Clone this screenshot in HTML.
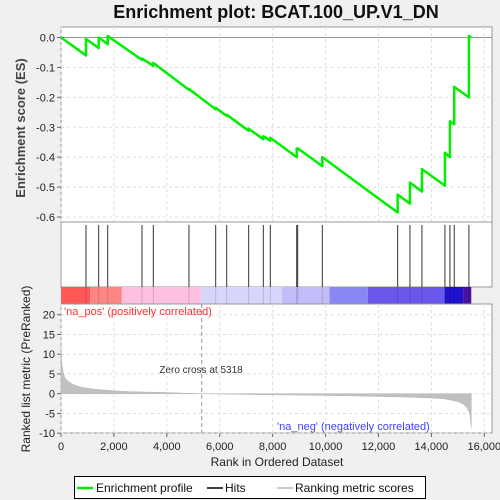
<!DOCTYPE html>
<html><head><meta charset="utf-8"><style>
body{margin:0;background:#f0f0f0;font-family:"Liberation Sans",sans-serif;}
svg{display:block}
</style></head><body>
<svg id="chart" width="500" height="500" xmlns="http://www.w3.org/2000/svg">
<rect x="0" y="0" width="500" height="500" fill="#f0f0f0"/>
<text x="276" y="18" text-anchor="middle" font-size="18" font-weight="bold" fill="#111">Enrichment plot: BCAT.100_UP.V1_DN</text>
<g id="gtop"></g>
<g id="ghits"></g>
<g id="gbar"></g>
<g id="gbottom"></g>
<text transform="translate(25,128) rotate(-90)" text-anchor="middle" font-size="13" font-weight="bold" fill="#444">Enrichment score (ES)</text>
<text transform="translate(30,369) rotate(-90)" text-anchor="middle" font-size="12" fill="#222">Ranked list metric (PreRanked)</text>
<text x="277" y="466" text-anchor="middle" font-size="12" fill="#222">Rank in Ordered Dataset</text>
<g>
<rect x="74.5" y="476.5" width="351" height="22" fill="#fff" stroke="#000"/>
<line x1="77" y1="488" x2="93" y2="488" stroke="#00ee00" stroke-width="2.5"/>
<text x="96" y="492" font-size="12" fill="#111">Enrichment profile</text>
<line x1="207" y1="488" x2="223" y2="488" stroke="#000" stroke-width="1.5"/>
<text x="225" y="492" font-size="12" fill="#111">Hits</text>
<line x1="277" y1="488" x2="293" y2="488" stroke="#bbb" stroke-width="1.5"/>
<text x="295" y="492" font-size="12" fill="#111">Ranking metric scores</text>
</g>
</svg>
<script>
const hitRanks=[945,1424,1765,3061,3489,4837,5847,6263,7094,7647,7912,8909,8947,9877,12725,13190,13643,14512,14701,14864,15418];
const esBefore=[-0.06,-0.035,-0.022,-0.075,-0.095,-0.175,-0.24,-0.262,-0.312,-0.34,-0.345,-0.4,-0.375,-0.43,-0.585,-0.555,-0.515,-0.495,-0.4,-0.29,-0.2];
const esAfter=[-0.005,0.0,0.005,-0.07,-0.085,-0.172,-0.235,-0.258,-0.305,-0.33,-0.335,-0.372,-0.37,-0.4,-0.525,-0.485,-0.44,-0.385,-0.28,-0.165,0.005];
const totalRanks=15508;
const metricRanks=[0,30,80,150,300,500,800,1200,1700,2300,3000,4000,5318,7000,9000,10000,11000,12000,13000,14000,14500,15000,15200,15350,15450,15508];
const metricVals=[12,8,5.5,4,3,2.2,1.6,1.2,0.9,0.6,0.45,0.3,0,-0.2,-0.35,-0.45,-0.55,-0.7,-0.85,-1.1,-1.3,-2.0,-2.6,-3.6,-5,-8.7];
const xTicks=[0,2000,4000,6000,8000,10000,12000,14000,16000];
const esTicks=[0,-0.1,-0.2,-0.3,-0.4,-0.5,-0.6];
const mTicks=[20,15,10,5,0,-5,-10];
const barStops=[0,1100,2300,5300,8350,10150,11600,14500,15200,15508];
const barColors=["#ff5656","#ff8585","#fdc0e0","#d6d6fc","#c2bcf8","#8888f4","#6a58ec","#2010d0","#4a10a0"];

const NS="http://www.w3.org/2000/svg";
const L=61,R=492;
const xs=r=>61+r*(423.3/16000);
const ysES=v=>37.5-v*299.2;
const ysM=v=>393.7-v*3.95;
function mk(tag,attrs,parent){const e=document.createElementNS(NS,tag);for(const k in attrs)e.setAttribute(k,attrs[k]);parent.appendChild(e);return e;}
const gTop=document.getElementById('gtop'),gHits=document.getElementById('ghits'),gBar=document.getElementById('gbar'),gBottom=document.getElementById('gbottom');
let p=mk('rect',{x:L,y:27,width:R-L,height:195,fill:'#fff',stroke:'#999'},gTop);

p=mk('rect',{x:L,y:222,width:R-L,height:65,fill:'#fff',stroke:'#999'},gHits);

p=mk('rect',{x:L,y:304,width:R-L,height:129,fill:'#fff',stroke:'#999'},gBottom);

xTicks.forEach(t=>{const x=xs(t);
 mk('line',{x1:x,y1:27,x2:x,y2:222,stroke:'#ddd','stroke-dasharray':'3,3'},gTop);
 mk('line',{x1:x,y1:304,x2:x,y2:433,stroke:'#ddd','stroke-dasharray':'3,3'},gBottom);
 mk('line',{x1:x,y1:433,x2:x,y2:437,stroke:'#666'},gBottom);
 const tx=mk('text',{x:x,y:450,'text-anchor':'middle','font-size':'11',fill:'#222'},gBottom);
 tx.textContent=t.toLocaleString('en-US');
 
});
esTicks.forEach(t=>{const y=ysES(t);
 mk('line',{x1:L,y1:y,x2:R,y2:y,stroke:t===0?'#999':'#ddd','stroke-dasharray':t===0?'':'3,3'},gTop);
 mk('line',{x1:L-4,y1:y,x2:L,y2:y,stroke:'#666'},gTop);
 const tx=mk('text',{x:L-6,y:y+4,'text-anchor':'end','font-size':'11',fill:'#222'},gTop);
 tx.textContent=t.toFixed(1);
 
});
mTicks.forEach(t=>{const y=ysM(t);
 mk('line',{x1:L,y1:y,x2:R,y2:y,stroke:'#ddd','stroke-dasharray':'3,3'},gBottom);
 mk('line',{x1:L-4,y1:y,x2:L,y2:y,stroke:'#666'},gBottom);
 const tx=mk('text',{x:L-6,y:y+4,'text-anchor':'end','font-size':'11',fill:'#222'},gBottom);
 tx.textContent=t;
 
});
let d='M'+xs(0)+','+ysES(0);
hitRanks.forEach((r,i)=>{d+=' L'+xs(r)+','+ysES(esBefore[i])+' L'+xs(r)+','+ysES(esAfter[i]);});
d+=' L'+xs(totalRanks)+','+ysES(0);
const esLine=mk('path',{d:d,fill:'none',stroke:'#00ee00','stroke-width':'2.5','stroke-linejoin':'round'},gTop);


hitRanks.forEach(r=>{const h=mk('line',{x1:xs(r),y1:225,x2:xs(r),y2:287,stroke:'#333','stroke-width':'1'},gHits);
 
 });
for(let i=0;i<barColors.length;i++){const b=mk('rect',{x:xs(barStops[i]),y:287,width:xs(barStops[i+1])-xs(barStops[i]),height:17,fill:barColors[i]},gBar);
 
 }
hitRanks.forEach(r=>mk('line',{x1:xs(r),y1:287,x2:xs(r),y2:304,stroke:'rgba(0,0,0,0.15)'},gBar));
mk('line',{x1:L,y1:304,x2:R,y2:304,stroke:'#999'},gBar);
let md='M'+xs(0)+','+ysM(0);
metricRanks.forEach((r,i)=>{md+=' L'+xs(r)+','+ysM(metricVals[i]);});
md+=' L'+xs(totalRanks)+','+ysM(0)+' Z';
const area=mk('path',{d:md,fill:'#c0c0c0',stroke:'#b8b8b8','stroke-width':'0.5'},gBottom);


const zx=xs(5318);
mk('line',{x1:zx,y1:304,x2:zx,y2:433,stroke:'#999','stroke-dasharray':'4,3'},gBottom);
let t=mk('text',{x:201,y:373,'text-anchor':'middle','font-size':'10',fill:'#333'},gBottom);t.textContent='Zero cross at 5318';

t=mk('text',{x:64,y:315,'font-size':'11',fill:'#ff3030'},gBottom);t.textContent="'na_pos' (positively correlated)";

t=mk('text',{x:277,y:430,'font-size':'11',fill:'#4040ff'},gBottom);t.textContent="'na_neg' (negatively correlated)";

</script>
</body></html>
